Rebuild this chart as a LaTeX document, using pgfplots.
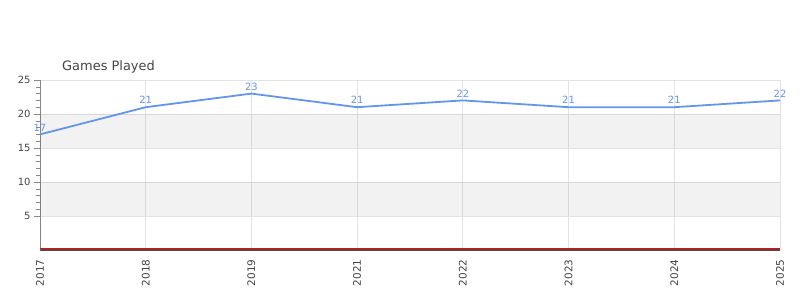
\documentclass[border=0pt]{standalone}
\usepackage{pgfplots}
\pgfplotsset{compat=1.18}
\usepackage{fontspec}
\setmainfont{DejaVu Sans}
\definecolor{lineblue}{HTML}{6495ED}
\definecolor{gridgray}{HTML}{E3E3E3}
\definecolor{axisgray}{HTML}{888888}
\definecolor{txtgray}{HTML}{444444}
\begin{document}
\begin{tikzpicture}
\useasboundingbox (0bp,0bp) rectangle (800bp,300bp);
\begin{axis}[
  at={(40bp,50bp)}, anchor=south west,
  scale only axis, width=740bp, height=170bp,
  xmin=0, xmax=7, ymin=0, ymax=25,
  xtick={0,...,7},
  xticklabels={2017,2018,2019,2021,2022,2023,2024,2025},
  xticklabel style={rotate=90, anchor=east, font=\fontsize{10.5}{12}\selectfont, text=txtgray},
  ytick={5,10,15,20,25},
  minor y tick num=4,
  yticklabel style={font=\fontsize{10}{12}\selectfont, text=txtgray},
  /pgf/number format/assume math mode=true,
  xmajorgrids, ymajorgrids,
  grid style={gridgray, line width=0.8bp},
  axis x line*=bottom, axis y line*=left,
  x axis line style={draw=black!70, line width=1.4bp, -},
  y axis line style={draw=axisgray, -},
  major x tick style={draw=none},
  y tick style={draw=axisgray},
  major tick length=6bp, minor tick length=4bp,
  tick align=outside,
  clip=false,
  title={Games Played},
  title style={anchor=base west, at={(0,1)}, inner sep=0pt, xshift=22bp, yshift=4bp, font=\fontsize{13}{15}\selectfont, text=txtgray},
]
\addplot[fill=black, fill opacity=0.05, draw=none] coordinates {(0,15) (7,15) (7,20) (0,20)} \closedcycle;
\addplot[fill=black, fill opacity=0.05, draw=none] coordinates {(0,5) (7,5) (7,10) (0,10)} \closedcycle;
\addplot[red, line width=1.2bp] coordinates {(0,0.2) (1,0.2) (2,0.2) (3,0.2) (4,0.2) (5,0.2) (6,0.2) (7,0.2)};
\addplot[lineblue, line width=1.8bp, nodes near coords,
  nodes near coords style={font=\fontsize{10}{12}\selectfont, text=lineblue, anchor=south, yshift=-1bp}]
  coordinates {(0,17) (1,21) (2,23) (3,21) (4,22) (5,21) (6,21) (7,22)};
\end{axis}
\end{tikzpicture}
\end{document}
